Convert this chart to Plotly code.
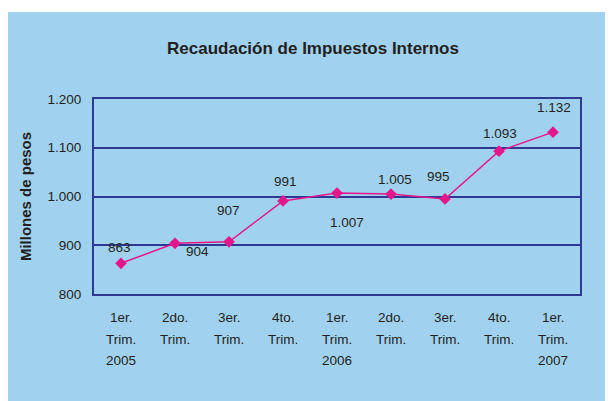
import plotly.graph_objects as go

categories = ["1T2005", "2T2005", "3T2005", "4T2005", "1T2006", "2T2006", "3T2006", "4T2006", "1T2007"]
values = [863, 904, 907, 991, 1007, 1005, 995, 1093, 1132]
tick_row1 = ["1er.", "2do.", "3er.", "4to.", "1er.", "2do.", "3er.", "4to.", "1er."]
tick_row2 = ["Trim."] * 9
tick_row3 = ["2005", "", "", "", "2006", "", "", "", "2007"]
y_tickvals = [800, 900, 1000, 1100, 1200]

# label offsets in pixels (style only)
label_dx = [-2, 22, -1, 2, 10, 4, -7, 1, 1]
label_dy = [16, -8, 31, 19, -29, 15, 22, 18, 25]


def fmt(v):
    return f"{v:,}".replace(",", ".")


BLUE_BG = "#A0D2F0"
NAVY = "#2E3A92"
MAGENTA = "#E5168C"
FONT = "Liberation Sans"
TXT = "#231F20"

W, H = 605, 393
ML, MR, MT, MB = 86, 33, 91, 107
PW, PH = W - ML - MR, H - MT - MB

fig = go.Figure()
fig.add_trace(go.Scatter(
    x=list(range(len(categories))), y=values, mode="lines+markers",
    line=dict(color=MAGENTA, width=1.5),
    marker=dict(symbol="diamond", size=9, color=MAGENTA),
    hoverinfo="skip", showlegend=False,
))

annotations = []
for i, v in enumerate(values):
    annotations.append(dict(x=i, y=v, xref="x", yref="y", text=fmt(v), showarrow=False,
                            xshift=label_dx[i], yshift=label_dy[i],
                            font=dict(family=FONT, size=13.5, color=TXT)))
for rows, dy in ((tick_row1, -23), (tick_row2, -45), (tick_row3, -66)):
    for i, t in enumerate(rows):
        if t:
            annotations.append(dict(x=i, y=0, xref="x", yref="paper", text=t, showarrow=False,
                                    yshift=dy, yanchor="middle",
                                    font=dict(family=FONT, size=13.5, color=TXT)))

fig.update_layout(
    width=W, height=H,
    margin=dict(l=ML, r=MR, t=MT, b=MB),
    paper_bgcolor="white",
    plot_bgcolor="white",
    title=dict(text="<b>Recaudación de Impuestos Internos</b>", x=305 / W, xanchor="center",
               y=1 - 40 / H, yanchor="middle",
               font=dict(family=FONT, size=17, color=TXT)),
    annotations=annotations,
    shapes=[dict(type="rect", xref="paper", yref="paper", layer="below",
                 x0=-ML / PW, x1=1 + MR / PW, y0=-MB / PH, y1=1 + (MT - 4) / PH,
                 fillcolor=BLUE_BG, line=dict(width=0))],
    xaxis=dict(range=[-0.5, 8.5], showticklabels=False, showgrid=False, zeroline=False,
               showline=True, linecolor=NAVY, linewidth=2, mirror=True, ticks=""),
    yaxis=dict(range=[800, 1200], tickvals=y_tickvals, ticktext=[fmt(v) for v in y_tickvals],
               showgrid=True, gridcolor=NAVY, gridwidth=1.5, zeroline=False,
               showline=True, linecolor=NAVY, linewidth=2, mirror=True,
               ticks="", ticklabelstandoff=8,
               tickfont=dict(family=FONT, size=13.5, color=TXT),
               title=dict(text="<b>Millones de pesos</b>", standoff=12,
                          font=dict(family=FONT, size=15, color=TXT))),
)

fig.write_html("out.html")
